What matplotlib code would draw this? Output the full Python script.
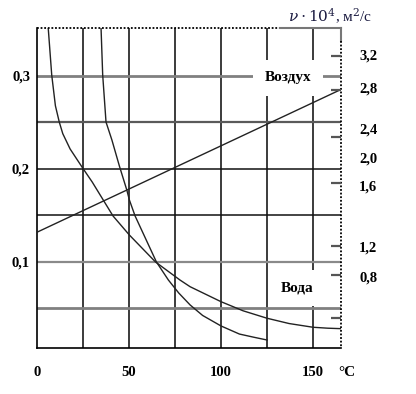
import matplotlib

matplotlib.use("Agg")
import matplotlib.pyplot as plt

# temperature, deg C  /  value on the left scale
air_t = [0, 165.2]
air_v = [0.132, 0.2855]

curve_a_t = [6.1, 8.0, 10.0, 12.1, 14.0, 18.0, 24.8, 30.0, 41.3, 50.2, 64.4, 77.7,
             83.2, 100, 112, 125, 137, 150, 158, 165.2]
curve_a_v = [0.3516, 0.3011, 0.268, 0.2505, 0.238, 0.2215, 0.2011, 0.186, 0.1495, 0.129,
             0.1000, 0.0806, 0.0734, 0.0573, 0.0475, 0.0395, 0.0338, 0.0298, 0.0288, 0.0283]

curve_b_t = [34.8, 35.7, 37.5, 40.7, 44.8, 48.8, 50.2, 53.3, 64.9, 71.4, 77.0, 83.2,
             90.0, 100, 110, 118, 125]
curve_b_v = [0.3516, 0.3011, 0.2505, 0.2312, 0.2030, 0.1774, 0.1667, 0.1495, 0.1000,
             0.0806, 0.0667, 0.0538, 0.0425, 0.0312, 0.0225, 0.0190, 0.0161]

x_grid = [25, 50, 75, 100, 125, 150]
y_grid = [0.05, 0.10, 0.15, 0.20, 0.25, 0.30]
y_grid_colors = ["#808080", "#8a8a8a", "#111111", "#111111", "#5a5a5a", "#808080"]
y_grid_widths = [2.0, 1.6, 1.1, 1.1, 1.6, 2.0]

x_ticks = [0, 50, 100, 150]
x_labels = ["0", "50", "100", "150"]
left_ticks = [0.1, 0.2, 0.3]
left_labels = ["0,1", "0,2", "0,3"]

# right scale, drawn irregularly in the source figure
right_tick_pos = [0.321, 0.285, 0.234, 0.185, 0.117, 0.086, 0.040]
right_label_pos = [0.323, 0.288, 0.244, 0.212, 0.182, 0.117, 0.084]
right_labels = ["3,2", "2,8", "2,4", "2,0", "1,6", "1,2", "0,8"]

SERIF = ["Liberation Serif", "DejaVu Serif"]


def draw_frame(ax):
    for side in ("top", "right"):
        ax.spines[side].set_visible(False)
    for side in ("left", "bottom"):
        ax.spines[side].set_color("black")
        ax.spines[side].set_linewidth(1.2)
    kw = dict(transform=ax.transAxes, clip_on=False, zorder=6)
    ax.plot([0, 0.8], [1, 1], color="black", lw=1.3, ls=(0, (1, 1)), **kw)
    ax.plot([0.8, 1], [1, 1], color="#777777", lw=1.5, **kw)
    ax.plot([1, 1], [1, 0.96], color="#777777", lw=1.5, **kw)
    ax.plot([1, 1], [0.96, 0], color="black", lw=1.3, ls=(0, (1, 1)), **kw)


def style_labels(labels):
    for lab in labels:
        lab.set_fontfamily(SERIF)
        lab.set_fontweight("bold")
        lab.set_fontsize(10.5)


def main():
    plt.rcParams["mathtext.fontset"] = "dejavuserif"
    fig = plt.figure(figsize=(4.16, 3.94), dpi=100)
    ax = fig.add_axes([37 / 416, 1 - 348 / 394, 304 / 416, 320 / 394])
    ax.set_xlim(0, 165.2)
    ax.set_ylim(0.0075, 0.3516)

    for x in x_grid:
        ax.axvline(x, color="#1a1a1a", lw=1.2, zorder=1)
    for y, c, w in zip(y_grid, y_grid_colors, y_grid_widths):
        ax.axhline(y, color=c, lw=w, zorder=1)

    ax.plot(air_t, air_v, color="#222222", lw=1.0, zorder=3)
    ax.plot(curve_a_t, curve_a_v, color="#222222", lw=1.0, zorder=3)
    ax.plot(curve_b_t, curve_b_v, color="#222222", lw=1.0, zorder=3)

    box = dict(boxstyle="square,pad=0.75", facecolor="white", edgecolor="none")
    ax.text(136.4, 0.298, "Воздух", ha="center", va="center", fontsize=11,
            fontweight="bold", family=SERIF, bbox=box, zorder=5)
    ax.text(141.3, 0.072, "Вода", ha="center", va="center", fontsize=11,
            fontweight="bold", family=SERIF, bbox=box, zorder=5)

    ax.set_xticks(x_ticks, x_labels)
    ax.set_yticks(left_ticks, left_labels)
    ax.tick_params(axis="x", length=0, pad=13)
    ax.tick_params(axis="y", length=0, pad=5)
    style_labels(ax.get_xticklabels() + ax.get_yticklabels())

    ax2 = ax.twinx()
    ax2.set_ylim(ax.get_ylim())
    for side in ax2.spines:
        ax2.spines[side].set_visible(False)
    ax2.yaxis.set_remove_overlapping_locs(False)
    ax2.set_yticks(right_tick_pos, [""] * len(right_tick_pos))
    ax2.tick_params(axis="y", which="major", direction="in", length=7, width=1.6, color="#555555")
    ax2.set_yticks(right_label_pos, right_labels, minor=True)
    ax2.tick_params(axis="y", which="minor", length=0, pad=13)
    style_labels(ax2.get_yticklabels(minor=True))

    draw_frame(ax)

    fig.text(347 / 416, 1 - 372 / 394, "°C", ha="center", va="center", fontsize=11,
             fontweight="bold", family=SERIF)
    fig.text(330 / 416, 1 - 16 / 394, r"$\nu \cdot 10^4$, м$^2$/с", ha="center", va="center",
             fontsize=11, color="#1a1a40", family=SERIF)

    fig.savefig("out.png", dpi=100)
    plt.close(fig)


if __name__ == "__main__":
    main()
